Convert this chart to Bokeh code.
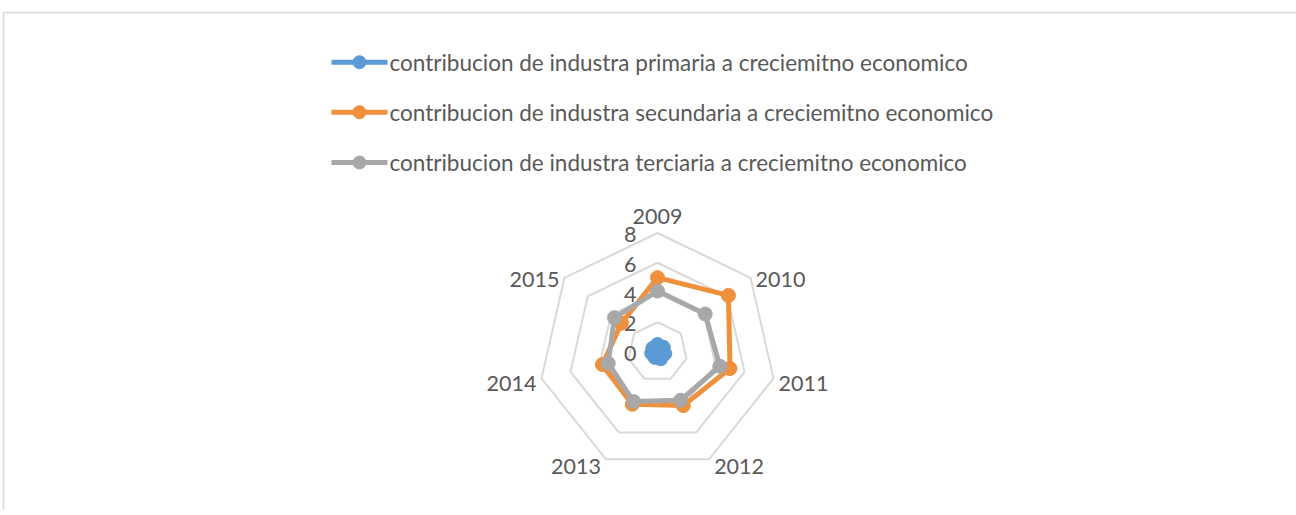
import math
from bokeh.plotting import figure
from bokeh.models import Range1d
from bokeh.core.properties import value
from bokeh.embed import file_html
from bokeh.resources import INLINE

# ---------------- data ----------------
years = ["2009", "2010", "2011", "2012", "2013", "2014", "2015"]
primaria = [0.5, 0.5, 0.5, 0.5, 0.4, 0.4, 0.4]
secundaria = [5.0, 6.1, 5.0, 4.0, 3.9, 3.8, 3.1]
terciaria = [4.1, 4.1, 4.3, 3.6, 3.7, 3.4, 3.7]
series_names = [
    "contribucion de industra primaria a creciemitno economico",
    "contribucion de industra secundaria a creciemitno economico",
    "contribucion de industra terciaria a creciemitno economico",
]
tick_values = [0, 2, 4, 6, 8]
tick_labels = ["0", "2", "4", "6", "8"]
r_max = 8

# ---------------- layout / style ----------------
OX, OY = 0, 0              # page position of the figure's top-left corner
W, H = 1296, 510
CX, CY = 657.0, 351.5      # radar centre in page pixels
R = 119.0                  # pixel radius of r_max
FONT = "Lato"
FS_LEG = "22.5px"
FS_AX = "21.5px"
TXT = "#595959"
GRID = "#d9d9d9"
colors = ["#5B9BD5", "#F0903C", "#A8A8A8"]
all_series = [primaria, secundaria, terciaria]

p = figure(width=W, height=H, output_backend="svg", toolbar_location=None,
           x_range=Range1d(OX - CX, OX + W - CX), y_range=Range1d(CY - (OY + H), CY - OY),
           min_border=0, outline_line_color=None)
p.axis.visible = False
p.grid.visible = False
p.background_fill_color = "white"
p.border_fill_color = "white"

def sx(x):
    return x - CX

def sy(y):
    return CY - y

n = len(years)
angles = [2 * math.pi * i / n for i in range(n)]

def pol(v, i):
    r = v / r_max * R
    return r * math.sin(angles[i]), r * math.cos(angles[i])

# chart border (top and left edges visible)
p.line([sx(3), sx(1296)], [sy(12), sy(12)], line_color=GRID, line_width=1.5)
p.line([sx(3), sx(3)], [sy(12), sy(515)], line_color=GRID, line_width=1.5)

# grid rings
for t in tick_values:
    if t == 0:
        continue
    xs = [pol(t, i)[0] for i in range(n)] + [pol(t, 0)[0]]
    ys = [pol(t, i)[1] for i in range(n)] + [pol(t, 0)[1]]
    p.line(xs, ys, line_color=GRID, line_width=2)

# tick labels along the 2009 axis
for t, lab in zip(tick_values, tick_labels):
    p.text(x=[-21], y=[t / r_max * R - 1.5], text=[lab], text_font=value(FONT),
           text_font_size=value(FS_AX), text_color=TXT, text_align="right",
           text_baseline="middle")

# category labels
for i, yr in enumerate(years):
    vx, vy = pol(r_max, i)
    s, c = math.sin(angles[i]), math.cos(angles[i])
    if abs(s) < 0.1:
        p.text(x=[vx], y=[vy + 17], text=[yr], text_font=value(FONT), text_font_size=value(FS_AX),
               text_color=TXT, text_align="center", text_baseline="middle")
    else:
        align = "left" if s > 0 else "right"
        dx = 5 if s > 0 else -5
        dy = -4 * (1 - c)
        p.text(x=[vx + dx], y=[vy + dy], text=[yr], text_font=value(FONT), text_font_size=value(FS_AX),
               text_color=TXT, text_align=align, text_baseline="middle")

# series
for vals, col in zip(all_series, colors):
    xs = [pol(v, i)[0] for i, v in enumerate(vals)]
    ys = [pol(v, i)[1] for i, v in enumerate(vals)]
    p.line(xs + [xs[0]], ys + [ys[0]], line_color=col, line_width=5, line_join="round")
    p.scatter(xs, ys, size=14, fill_color=col, line_color=col)

# legend
legend_rows = [61.7, 111.7, 162.0]
for name, col, ry in zip(series_names, colors, legend_rows):
    p.line([sx(331), sx(387)], [sy(ry), sy(ry)], line_color=col, line_width=5)
    p.scatter([sx(359)], [sy(ry)], size=13, fill_color=col, line_color=col)
    p.text(x=[sx(389)], y=[sy(ry)], text=[name], text_font=value(FONT), text_font_size=value(FS_LEG),
           text_color=TXT, text_align="left", text_baseline="middle")

open("out.html", "w").write(file_html(p, INLINE))
